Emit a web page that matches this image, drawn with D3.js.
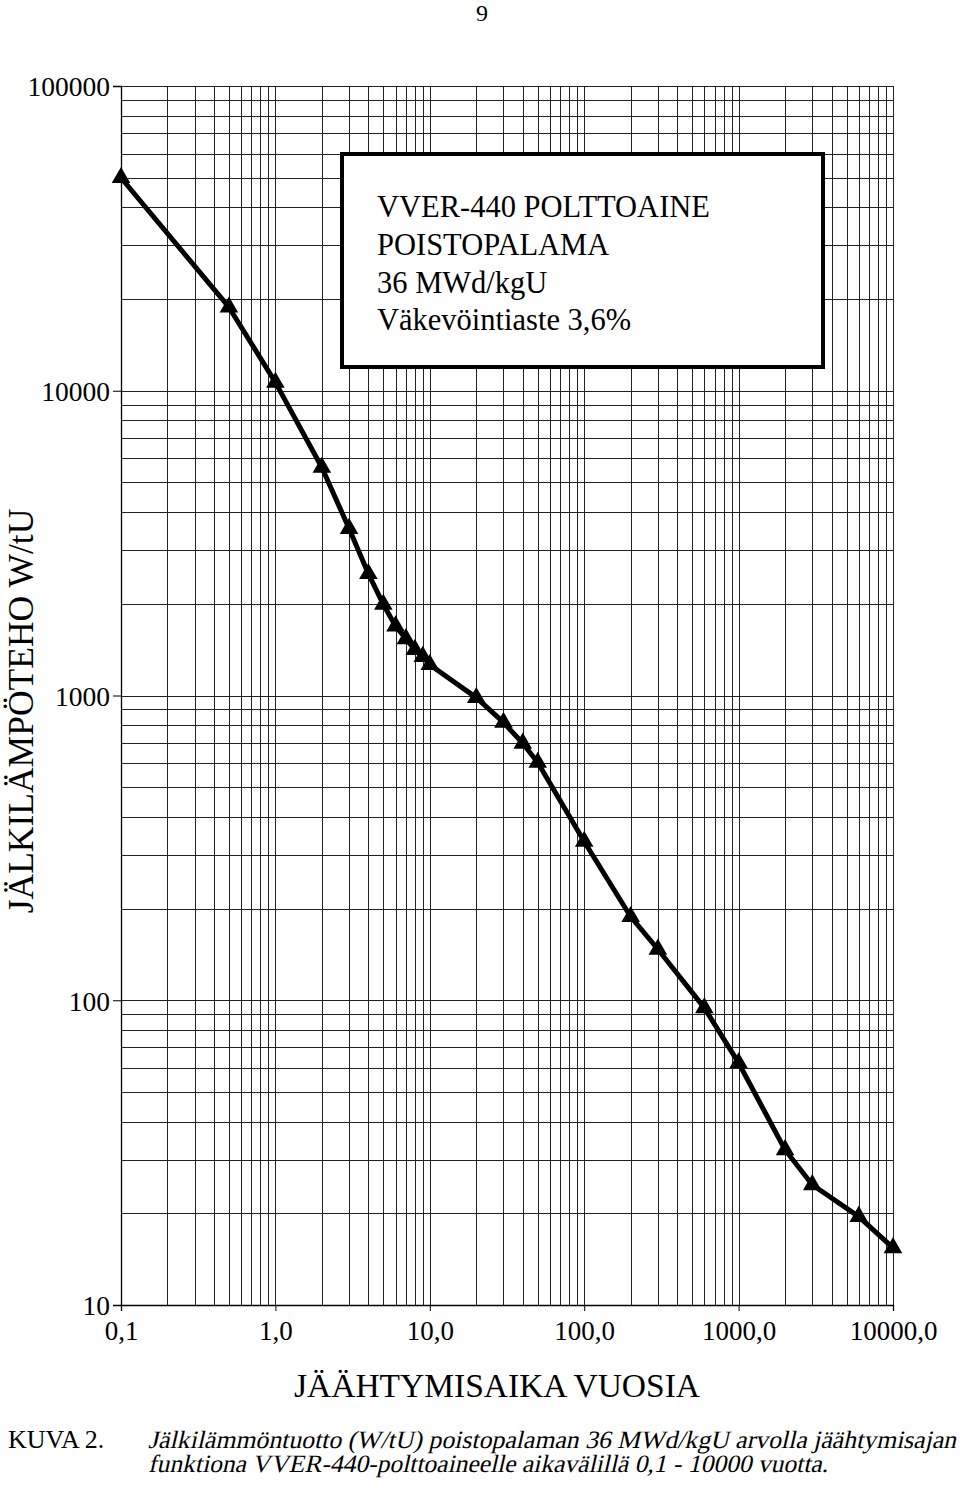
<!DOCTYPE html>
<html>
<head>
<meta charset="utf-8">
<script src="https://cdn.jsdelivr.net/npm/d3@7/dist/d3.min.js"></script>
<style>
  html, body { margin: 0; padding: 0; background: #fff; }
  svg { display: block; }
  text { font-family: "Liberation Serif", "Times New Roman", serif; fill: #000; }
</style>
</head>
<body>
<svg id="chart" width="960" height="1490"></svg>
<script>
// ---- data ----
const years = [0.1, 0.5, 1, 2, 3, 4, 5, 6, 7, 8, 9, 10, 20, 30, 40, 50, 100, 200, 300, 600, 1000, 2000, 3000, 6000, 10000];
const heat  = [50000, 18800, 10650, 5600, 3530, 2510, 1990, 1690, 1535, 1413, 1342, 1262, 984, 816, 697, 603, 332, 188, 147, 94.4, 62.3, 32.3, 24.8, 19.5, 15.4];
const xTicks = [0.1, 1, 10, 100, 1000, 10000];
const xTickLabels = ["0,1", "1,0", "10,0", "100,0", "1000,0", "10000,0"];
const yTicks = [10, 100, 1000, 10000, 100000];
const yTickLabels = ["10", "100", "1000", "10000", "100000"];
const legendLines = ["VVER-440 POLTTOAINE", "POISTOPALAMA", "36 MWd/kgU", "Väkevöintiaste 3,6%"];
const xTitle = "JÄÄHTYMISAIKA VUOSIA";
const yTitle = "JÄLKILÄMPÖTEHO W/tU";
const pageNo = "9";
const captionLabel = "KUVA 2.";
const captionLines = ["Jälkilämmöntuotto (W/tU) poistopalaman 36 MWd/kgU arvolla jäähtymisajan",
                      "funktiona VVER-440-polttoaineelle aikavälillä 0,1 - 10000 vuotta."];

// ---- layout ----
const L = 121, R = 893, T = 86, B = 1305;
const svg = d3.select("#chart");
const x = d3.scaleLog().domain([0.1, 10000]).range([L, R]);
const y = d3.scaleLog().domain([10, 100000]).range([B, T]);

// grid values (1..9 per decade)
const xGrid = [], yGrid = [];
for (let e = -1; e < 4; e++) for (let k = 1; k <= 9; k++) xGrid.push(k * Math.pow(10, e));
xGrid.push(10000);
for (let e = 1; e < 5; e++) for (let k = 1; k <= 9; k++) yGrid.push(k * Math.pow(10, e));
yGrid.push(100000);

const grid = svg.append("g").attr("stroke", "#222").attr("stroke-width", 1).attr("shape-rendering", "crispEdges");
grid.selectAll("line.v").data(xGrid).join("line").attr("class", "v")
  .attr("x1", d => Math.round(x(d)) + 0.5).attr("x2", d => Math.round(x(d)) + 0.5).attr("y1", T).attr("y2", B);
grid.selectAll("line.h").data(yGrid).join("line").attr("class", "h")
  .attr("x1", L).attr("x2", R).attr("y1", d => Math.round(y(d)) + 0.5).attr("y2", d => Math.round(y(d)) + 0.5);

// axes
const yAxis = d3.axisLeft(y).tickValues(yTicks).tickFormat((d, i) => yTickLabels[i]).tickSize(8).tickPadding(3);
const gy = svg.append("g").attr("transform", `translate(${L},0)`).call(yAxis);
gy.attr("font-family", null);
gy.select(".domain").attr("stroke", "#000").attr("stroke-width", 1.3);
gy.selectAll(".tick line").attr("stroke", "#000");
gy.selectAll(".tick text").attr("font-size", 27.5).attr("dy", "0.36em");

const xAxis = d3.axisBottom(x).tickValues(xTicks).tickFormat((d, i) => xTickLabels[i]).tickSize(6).tickPadding(3);
const gx = svg.append("g").attr("transform", `translate(0,${B})`).call(xAxis);
gx.attr("font-family", null);
gx.select(".domain").attr("stroke", "#000").attr("stroke-width", 1.3);
gx.selectAll(".tick line").attr("stroke", "#000");
gx.selectAll(".tick text").attr("font-size", 27).attr("y", 35).attr("dy", 0);

// legend box
const box = svg.append("g");
box.append("rect").attr("x", 342).attr("y", 154).attr("width", 481).attr("height", 213)
  .attr("fill", "#fff").attr("stroke", "#000").attr("stroke-width", 4);
box.selectAll("text").data(legendLines).join("text")
  .attr("x", 377).attr("y", (d, i) => 217 + i * 37.8)
  .attr("font-size", 30.5).text(d => d);

// curve
const pts = years.map((d, i) => [x(d), y(heat[i])]);
svg.append("path").datum(pts)
  .attr("d", d3.line().curve(d3.curveLinear))
  .attr("fill", "none").attr("stroke", "#000").attr("stroke-width", 5).attr("stroke-linejoin", "round");
svg.append("g").selectAll("path").data(pts).join("path")
  .attr("transform", d => `translate(${d[0]},${d[1]})`)
  .attr("d", d3.symbol().type(d3.symbolTriangle).size(150))
  .attr("fill", "#000");

// titles
svg.append("text").attr("x", 497).attr("y", 1397).attr("text-anchor", "middle")
  .attr("font-size", 33.5).text(xTitle);
svg.append("text").attr("transform", "translate(33,711) rotate(-90)").attr("text-anchor", "middle")
  .attr("font-size", 35.5).text(yTitle);
svg.append("text").attr("x", 482).attr("y", 21).attr("text-anchor", "middle")
  .attr("font-size", 24).text(pageNo);

// caption
svg.append("text").attr("x", 8).attr("y", 1448).attr("font-size", 26).text(captionLabel);
const capW = [808, 680];
svg.selectAll("text.cap").data(captionLines).join("text").attr("class", "cap")
  .attr("transform", (d, i) => `translate(148,${1448 + i * 24}) skewX(-13)`)
  .attr("font-size", 25)
  .attr("textLength", (d, i) => capW[i]).attr("lengthAdjust", "spacingAndGlyphs")
  .text(d => d);
</script>
</body>
</html>
